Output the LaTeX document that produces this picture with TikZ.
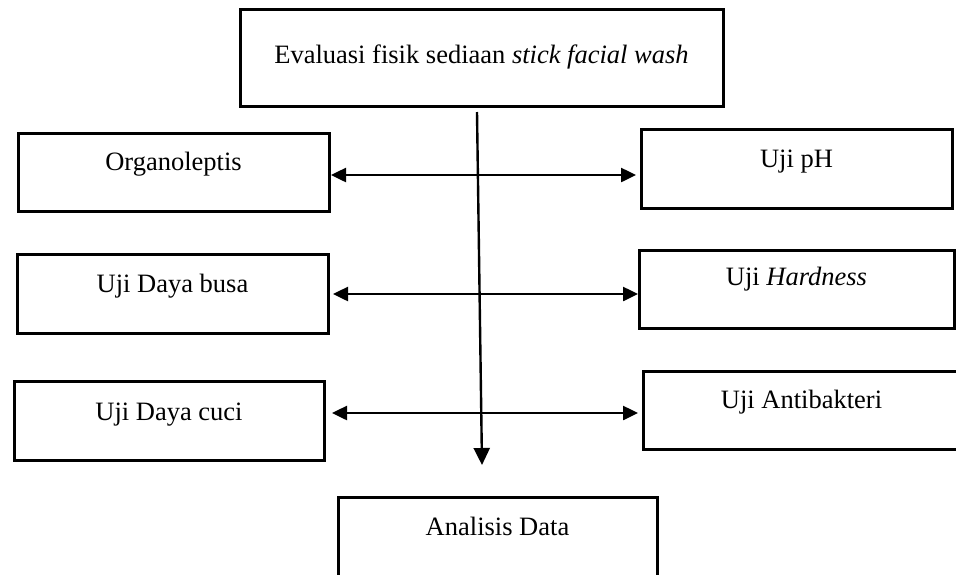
\documentclass[tikz,border=0pt]{standalone}
\usepackage{fontspec}
\setmainfont{Liberation Serif}
\usetikzlibrary{arrows.meta}
\begin{document}
\begin{tikzpicture}[x=1pt,y=-1pt,
  box/.style={draw, line width=3pt, rectangle, anchor=north west,
    inner sep=0pt, outer sep=0pt, font=\fontsize{26.5}{30}\selectfont},
  dbl/.style={{Triangle[length=15pt,width=14pt]}-{Triangle[length=15pt,width=14pt]}, line width=2.5pt},
  varrow/.style={-{Triangle[length=17pt,width=16pt]}, line width=2.4pt}]
\useasboundingbox (0,0) rectangle (956,574);
\clip (0,0) rectangle (956,574);
\fill[white] (0,0) rectangle (956,574);
% boxes
\node[box, minimum width=483pt, text height=54pt, text depth=43pt] (top) at (240,9) {Evaluasi fisik sediaan \textit{stick facial wash}};
\node[box, minimum width=311pt, text height=37pt, text depth=41pt] (org) at (18,133) {Organoleptis};
\node[box, minimum width=311pt, text height=38pt, text depth=41pt] (ph) at (641,129) {Uji pH};
\node[box, minimum width=311pt, text height=38pt, text depth=41pt] (busa) at (17,254) {Uji Daya busa};
\node[box, minimum width=315pt, text height=35pt, text depth=43pt] (hard) at (639,250) {Uji \textit{Hardness}};
\node[box, minimum width=310pt, text height=39pt, text depth=40pt] (cuci) at (14,381) {Uji Daya cuci};
\node[box, minimum width=317pt, text height=37pt, text depth=41pt] (anti) at (643,371) {Uji Antibakteri};
\node[box, minimum width=319pt, text height=38pt, text depth=60pt] (ana) at (338,497) {Analisis Data};
% connectors
\coordinate (r1) at (0,175);
\coordinate (r2) at (0,294);
\coordinate (r3) at (0,413);
\draw[dbl, shorten <=2pt, shorten >=5pt] (org.east |- r1) -- (ph.west |- r1);
\draw[dbl, shorten <=5pt, shorten >=1pt] (busa.east |- r2) -- (hard.west |- r2);
\draw[dbl, shorten <=8pt, shorten >=5pt] (cuci.east |- r3) -- (anti.west |- r3);
\coordinate (vs) at (477,112);
\coordinate (ve) at (482,465);
\draw[varrow] (vs) -- (ve);
\end{tikzpicture}
\end{document}
